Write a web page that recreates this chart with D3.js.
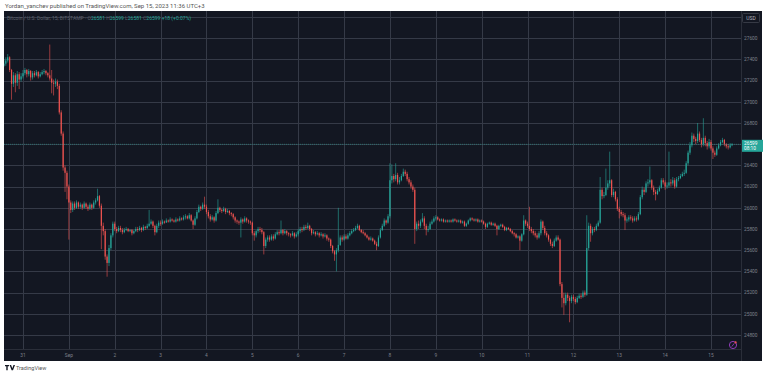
<!DOCTYPE html>
<html>
<head>
<meta charset="utf-8">
<script src="https://cdn.jsdelivr.net/npm/d3@7"></script>
<style>
  body { margin: 0; background: #fff; font-family: Roboto, "Noto Sans", sans-serif; }
  svg { display: block; }
</style>
</head>
<body>
<div id="wrapper"></div>
<script>
// hourly BTC/USD candles, first bar Aug 30 14:00
const startTime = Date.UTC(2023, 7, 30, 14);
const firstOpen = 27340;

const closes = [
  27360,27390,27420,27300,27170,27250,27180,27260,27210,27240,
  27270,27300,27260,27290,27230,27270,27250,27280,27240,27260,27280,27290,27270,27250,27220,27180,27170,27190,27150,26900,26700,26380,26330,26200,
  26050,25980,26040,26000,26050,26010,26030,26000,26040,26010,25990,26030,26000,26050,26070,26110,26020,25830,25780,25540,25480,25620,25740,25850,
  25800,25780,25810,25790,25770,25790,25800,25780,25790,25760,25780,25800,25790,25810,25790,25820,25810,25830,25850,25870,25830,25770,25830,25860,
  25850,25870,25860,25880,25870,25890,25880,25870,25890,25880,25900,25890,25910,25920,25900,25930,25880,25840,25900,25960,26010,25990,26030,26010,
  25960,25920,25890,25910,25880,25950,26000,25980,25970,25990,25960,25970,25950,25940,25910,25880,25870,25860,25890,25870,25900,25880,25870,25860,
  25760,25740,25780,25800,25790,25770,25640,25700,25720,25700,25730,25710,25750,25770,25760,25790,25760,25780,25760,25750,25740,25760,25730,25750,
  25780,25800,25790,25820,25810,25830,25800,25760,25770,25750,25760,25740,25750,25730,25740,25710,25700,25640,25590,25560,25600,25650,25720,25700,
  25730,25710,25740,25760,25780,25790,25810,25830,25790,25770,25760,25740,25720,25700,25710,25690,25660,25640,25720,25790,25830,25880,25860,25920,
  26260,26300,26270,26310,26240,26260,26300,26340,26320,26270,26240,26200,26170,25800,25850,25830,25870,25900,25830,25790,25800,25850,25870,25900,
  25910,25890,25880,25890,25870,25880,25870,25880,25870,25890,25880,25870,25880,25860,25870,25830,25850,25880,25900,25890,25880,25890,25870,25880,
  25870,25850,25820,25850,25860,25840,25850,25830,25800,25830,25840,25820,25790,25810,25800,25780,25760,25750,25720,25730,25690,25750,25880,25850,
  25830,25800,25780,25760,25740,25720,25760,25870,25810,25760,25740,25700,25660,25640,25690,25720,25700,25280,25150,25100,25180,25150,25120,25160,
  25140,25110,25150,25170,25160,25200,25180,25620,25830,25760,25800,25790,25830,25860,26170,26110,26120,26190,26230,26260,26120,26150,26080,25990,
  25960,25940,25930,25880,25890,25910,25900,25880,25900,25890,25940,26100,26170,26150,26230,26240,26260,26190,26150,26130,26160,26190,26260,26240,
  26200,26210,26240,26230,26260,26200,26270,26280,26300,26320,26330,26420,26520,26590,26680,26650,26630,26700,26640,26600,26660,26610,26580,26620,
  26560,26520,26500,26560,26590,26620,26640,26600,26580,26570,26590,26599
];

const highs = [
  27400,27420,27450,27430,27310,27280,27270,27290,27280,27270,
  27300,27320,27310,27310,27300,27290,27290,27300,27290,27280,27300,27310,27300,27280,27540,27300,27210,27220,27210,27170,26920,26720,26400,26350,
  26220,26070,26060,26060,26070,26060,26050,26040,26060,26050,26030,26050,26040,26070,26090,26180,26120,26040,25860,25800,25560,25650,25760,25870,
  25870,25820,25830,25830,25810,25810,25820,25810,25800,25800,25790,25820,25820,25830,25820,25840,25830,25850,25980,25890,25880,25840,25850,25880,
  25880,25890,25880,25900,25890,25910,25900,25890,25910,25900,25920,25910,25930,25940,25930,25950,25940,25890,25920,25980,26030,26020,26050,26105,
  26030,25980,25940,25930,25920,25970,26080,26010,25990,26010,26000,25990,25980,25960,25950,25920,25890,25880,25910,25900,25920,25910,25890,25880,
  25870,25780,25790,25820,25820,25810,25780,25720,25740,25740,25750,25750,25770,25790,25790,25880,25800,25800,25790,25770,25760,25780,25770,25770,
  25800,25820,25820,25840,25840,25860,25840,25810,25790,25780,25780,25770,25770,25760,25760,25750,25720,25710,25650,25600,25620,26000,25740,25740,
  25750,25750,25760,25780,25800,25810,25830,25850,25840,25800,25790,25770,25750,25730,25730,25720,25700,25680,25740,25810,25850,25900,25890,25940,
  26420,26410,26320,26420,26330,26290,26320,26370,26360,26340,26290,26260,26220,26190,25870,25880,25890,25950,25920,25850,25830,25870,25890,25920,
  25930,25920,25900,25900,25900,25890,25890,25890,25890,25900,25900,25890,25890,25890,25880,25880,25860,25890,25910,25910,25900,25900,25900,25890,
  25890,25880,25860,25860,25870,25870,25860,25860,25840,25840,25850,25850,25830,25820,25820,25810,25790,25770,25760,25740,25740,25760,25930,25890,
  25870,26010,25820,25800,25780,25760,25780,25890,25880,25830,25780,25750,25710,25680,25710,25740,25740,25710,25300,25200,25200,25200,25170,25180,
  25180,25160,25170,25190,25190,25220,25220,25930,25860,25850,25820,25820,25850,25880,26290,26190,26150,26370,26260,26530,26270,26180,26160,26100,
  26010,25980,25960,25950,25910,25930,25930,25920,25920,25920,25960,26120,26200,26190,26250,26270,26390,26270,26210,26170,26180,26210,26280,26280,
  26260,26240,26530,26270,26290,26280,26290,26300,26320,26340,26360,26440,26540,26620,26710,26700,26670,26800,26720,26660,26845,26680,26630,26650,
  26640,26580,26540,26580,26610,26640,26660,26650,26610,26600,26610,26610
];

const lows = [
  27330,27340,27370,27280,27020,27140,27090,27150,27120,27190,
  27220,27250,27230,27240,27200,27210,27230,27240,27220,27230,27250,27260,27250,27230,27200,27080,27060,27140,27120,26880,26680,26350,26150,26080,
  25700,25950,25960,25980,25990,25990,25990,25980,25990,25990,25970,25980,25980,25990,26030,26060,26000,25610,25740,25510,25350,25450,25600,25720,
  25780,25760,25770,25770,25750,25760,25780,25770,25770,25740,25750,25770,25770,25780,25770,25780,25790,25800,25820,25840,25810,25740,25760,25810,
  25830,25840,25850,25860,25860,25860,25870,25860,25860,25870,25870,25880,25880,25890,25890,25890,25870,25800,25830,25890,25950,25970,25980,25990,
  25940,25900,25870,25880,25860,25870,25940,25960,25950,25960,25940,25950,25930,25920,25890,25860,25850,25840,25720,25850,25860,25860,25850,25840,
  25740,25690,25720,25760,25770,25750,25560,25620,25680,25680,25690,25690,25700,25740,25740,25750,25740,25750,25740,25730,25720,25730,25710,25720,
  25730,25760,25770,25780,25790,25800,25780,25740,25750,25730,25740,25720,25730,25710,25720,25690,25680,25620,25570,25500,25400,25580,25640,25680,
  25690,25700,25700,25730,25750,25770,25780,25800,25780,25760,25750,25730,25710,25690,25690,25680,25650,25600,25630,25710,25780,25820,25840,25850,
  25900,26230,26240,26250,26220,26220,26250,26290,26300,26250,26220,26180,26150,25660,25780,25800,25810,25860,25800,25740,25770,25790,25840,25860,
  25880,25880,25870,25870,25860,25860,25860,25860,25860,25860,25870,25860,25860,25850,25850,25820,25820,25840,25870,25880,25870,25870,25860,25860,
  25860,25840,25800,25810,25840,25830,25830,25820,25740,25790,25820,25810,25780,25780,25790,25770,25750,25730,25710,25710,25600,25680,25740,25830,
  25810,25780,25760,25740,25720,25700,25710,25740,25790,25740,25720,25680,25640,25620,25630,25680,25690,25260,25060,24990,25080,25120,24920,25100,
  25120,25090,25100,25140,25140,25150,25160,25170,25600,25680,25740,25770,25780,25820,25850,26080,26090,26110,26170,26200,26100,26100,26060,25970,
  25900,25920,25910,25790,25860,25870,25880,25860,25870,25870,25880,25930,26080,26120,26140,26200,26220,26170,26120,26070,26120,26150,26180,26220,
  26170,26180,26190,26200,26210,26180,26190,26250,26270,26290,26300,26320,26400,26500,26570,26620,26600,26610,26620,26570,26580,26580,26550,26560,
  26540,26460,26480,26490,26550,26580,26610,26580,26560,26550,26560,26581
];

const priceTicks = [24800,25000,25200,25400,25600,25800,26000,26200,26400,26600,26800,27000,27200,27400,27600,27800];
const dayTickLabels = ["31","Sep","2","3","4","5","6","7","8","9","10","11","12","13","14","15"];
const lastPrice = 26599;
const countdown = "08:10";
const legendTitle = "Bitcoin / U.S. Dollar, 15, BITSTAMP";
const legendValues = [["O","26581"],["H","26599"],["L","26581"],["C","26599"]];
const legendChange = "+18 (+0.07%)";

const upColor = "#26a69a";
const downColor = "#ef5350";
const gridColor = "#353a47";
const axisText = "#7d808a";

const width = 766;
const height = 376;
const panel = { left: 4, top: 11, right: 762, bottom: 361 };
const plotRight = 741;
const plotBottom = 349.5;

const svg = d3.select("#wrapper").append("svg")
  .attr("width", width).attr("height", height);

// header line
svg.append("text")
  .attr("x", 5).attr("y", 7.5)
  .attr("font-size", 6).attr("fill", "#555")
  .text("Yordan_yanchev published on TradingView.com, Sep 15, 2023 11:36 UTC+3");

svg.append("rect")
  .attr("x", panel.left).attr("y", panel.top)
  .attr("width", panel.right - panel.left).attr("height", panel.bottom - panel.top)
  .attr("fill", "#131722");

// scales
const dayStart = Date.UTC(2023, 7, 31);
const dayTicks = dayTickLabels.map((label, i) => ({ label, date: new Date(dayStart + i * 864e5) }));
const x = d3.scaleUtc()
  .domain([dayTicks[0].date, dayTicks[dayTicks.length - 1].date])
  .range([23, 711]);
const y = d3.scaleLinear().domain([24800, 26800]).range([335, 123]);

const defs = svg.append("defs");
defs.append("clipPath").attr("id", "plot-clip")
  .append("rect")
  .attr("x", panel.left).attr("y", panel.top)
  .attr("width", plotRight - panel.left).attr("height", plotBottom - panel.top);

const plot = svg.append("g").attr("clip-path", "url(#plot-clip)");

// grid
plot.selectAll(".hgrid").data(priceTicks).join("line")
  .attr("x1", panel.left).attr("x2", plotRight)
  .attr("y1", d => Math.round(y(d)) + 0.5).attr("y2", d => Math.round(y(d)) + 0.5)
  .attr("stroke", gridColor);

plot.selectAll(".vgrid").data(dayTicks).join("line")
  .attr("x1", d => Math.round(x(d.date)) + 0.5).attr("x2", d => Math.round(x(d.date)) + 0.5)
  .attr("y1", panel.top).attr("y2", plotBottom)
  .attr("stroke", gridColor);

// candles
const candles = closes.map((c, i) => ({
  t: new Date(startTime + i * 36e5),
  o: i ? closes[i - 1] : firstOpen,
  h: highs[i],
  l: lows[i],
  c
}));
const hourPx = x(new Date(dayStart + 36e5)) - x(new Date(dayStart));
const bodyW = hourPx * 0.62;

const candle = plot.selectAll(".candle").data(candles).join("g")
  .attr("class", "candle");

candle.append("line")
  .attr("x1", d => x(d.t)).attr("x2", d => x(d.t))
  .attr("y1", d => y(d.h)).attr("y2", d => y(d.l))
  .attr("stroke", d => d.c >= d.o ? upColor : downColor)
  .attr("stroke-width", 0.6);

candle.append("rect")
  .attr("x", d => x(d.t) - bodyW / 2)
  .attr("width", bodyW)
  .attr("y", d => y(Math.max(d.o, d.c)))
  .attr("height", d => Math.max(0.6, Math.abs(y(d.o) - y(d.c))))
  .attr("fill", d => d.c >= d.o ? upColor : downColor);

// last price line
plot.append("line")
  .attr("x1", panel.left).attr("x2", plotRight)
  .attr("y1", y(lastPrice)).attr("y2", y(lastPrice))
  .attr("stroke", upColor).attr("stroke-opacity", 0.5)
  .attr("stroke-dasharray", "1,1");

// axis separators
svg.append("line")
  .attr("x1", plotRight + 0.5).attr("x2", plotRight + 0.5)
  .attr("y1", panel.top).attr("y2", panel.bottom)
  .attr("stroke", "#2a2e39");
svg.append("line")
  .attr("x1", panel.left).attr("x2", plotRight)
  .attr("y1", plotBottom).attr("y2", plotBottom)
  .attr("stroke", "#2a2e39");

// price axis labels
svg.selectAll(".plabel")
  .data(priceTicks.filter(p => p !== 26600 && p < 27800))
  .join("text")
  .attr("x", 744).attr("y", d => y(d) + 1.8)
  .attr("font-size", 4.8).attr("fill", axisText)
  .text(d => d);

// time axis labels
svg.selectAll(".tlabel").data(dayTicks).join("text")
  .attr("x", d => x(d.date)).attr("y", 357)
  .attr("text-anchor", "middle")
  .attr("font-size", 4.8).attr("fill", axisText)
  .text(d => d.label);

// USD box
svg.append("rect")
  .attr("x", 742.5).attr("y", 13.5).attr("width", 17).attr("height", 9).attr("rx", 1)
  .attr("fill", "#131722").attr("stroke", "#363a45");
svg.append("text")
  .attr("x", 751).attr("y", 20).attr("text-anchor", "middle")
  .attr("font-size", 5).attr("fill", "#b2b5be").text("USD");

// last price box
const lp = y(lastPrice);
svg.append("rect")
  .attr("x", plotRight + 1).attr("y", lp - 4.5).attr("width", 21).attr("height", 12)
  .attr("fill", upColor);
svg.append("text")
  .attr("x", 744).attr("y", lp + 0.6)
  .attr("font-size", 4.8).attr("fill", "#fff").text(lastPrice);
svg.append("text")
  .attr("x", 744).attr("y", lp + 6)
  .attr("font-size", 4.8).attr("fill", "#fff").text(countdown);

// legend
const legend = svg.append("text")
  .attr("x", 7).attr("y", 19.5).attr("font-size", 5);
legend.append("tspan").attr("fill", "#5d606b").text(legendTitle + " \u00b7 ");
legendValues.forEach(([k, v]) => {
  legend.append("tspan").attr("fill", "#5d606b").text(k);
  legend.append("tspan").attr("fill", upColor).text(v + " ");
});
legend.append("tspan").attr("fill", upColor).text(legendChange);

// small purple icon bottom right
const icon = svg.append("g").attr("transform", "translate(733,345)");
icon.append("circle").attr("r", 3.6).attr("fill", "none")
  .attr("stroke", "#9c3fc8").attr("stroke-width", 0.9);
icon.append("line").attr("x1", -1.2).attr("y1", 1.6).attr("x2", 1.2).attr("y2", -1.6)
  .attr("stroke", "#9c3fc8").attr("stroke-width", 0.8);
icon.append("circle").attr("cx", 2.6).attr("cy", -2.6).attr("r", 1.1).attr("fill", "#f0504f");

// TradingView footer
const footer = svg.append("g").attr("transform", "translate(5,365)");
footer.append("path")
  .attr("d", "M0,0h4v1.2h-1.3v4h-1.4v-4h-1.3z M4.6,0h1.5l1.2,3.2l1.2,-3.2h1.5l-2,5.2h-1.4z")
  .attr("fill", "#131722");
footer.append("text")
  .attr("x", 11).attr("y", 4.8).attr("font-size", 5.5).attr("fill", "#555")
  .text("TradingView");
</script>
</body>
</html>
